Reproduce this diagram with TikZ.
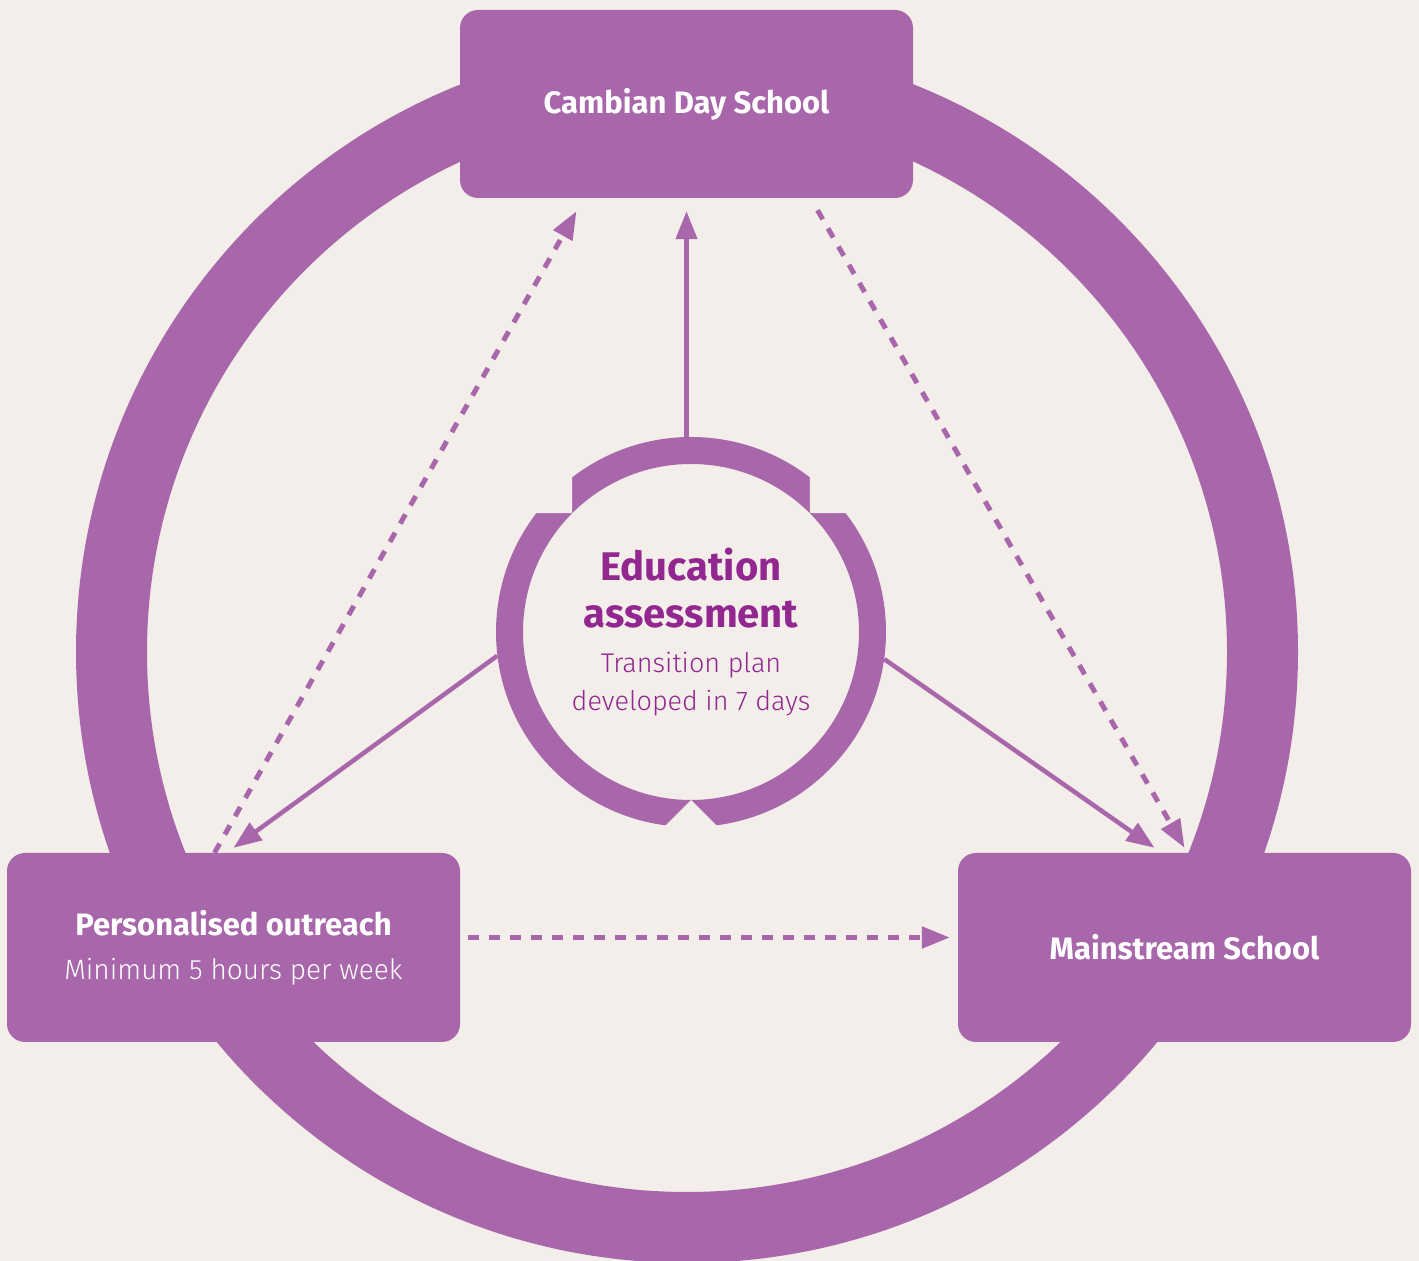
\documentclass[tikz,border=0pt]{standalone}
\usepackage{fontspec}
\setmainfont{Fira Sans}
\newfontfamily\lightfont{Fira Sans Light}
\usetikzlibrary{positioning}
\usetikzlibrary{arrows.meta}
\definecolor{cambpurple}{RGB}{168,103,170}
\definecolor{cambtext}{RGB}{146,39,143}
\definecolor{cambback}{RGB}{243,238,234}

\begin{document}
\begin{tikzpicture}[x=1pt,y=1pt,line join=miter,
  schoolbox/.style={rectangle,rounded corners=18pt,fill=cambpurple,text=white,minimum width=453pt,minimum height=189pt,inner sep=0pt,align=center,font=\fontsize{31}{44}\selectfont},
  solidarrow/.style={draw=cambpurple,line width=4.5pt,-{Triangle[length=28pt,width=21pt]}},
  dasharrow/.style={draw=cambpurple,line width=5pt,dash pattern=on 10.5pt off 10.5pt,-{Triangle[length=28pt,width=21pt]}}]
\fill[cambback] (0,0) rectangle (1419,1261);
\useasboundingbox (0,0) rectangle (1419,1261);
% outer cycle
\draw[cambpurple,line width=71pt] (687,609) circle (575.5);
% the three schools
\node[schoolbox,minimum height=188pt] (cds) at (686.5,1157) {\bfseries Cambian Day School};
\node[schoolbox] (outreach) at (233.5,313.5) {\bfseries Personalised outreach\\{\lightfont\fontsize{28}{44}\selectfont Minimum 5 hours per week}};
\node[schoolbox] (mainstream) at (1184.5,313.5) {\bfseries Mainstream School};
% assessment in the middle
\node[circle,minimum size=390pt,inner sep=0pt,align=center,text=cambtext,font=\fontsize{40}{47}\selectfont] (assess) at (691,629)
  {\bfseries Education\\\bfseries assessment\\[-2pt]{\lightfont\fontsize{27}{37}\selectfont Transition plan}\\[-9pt]{\lightfont\fontsize{27}{37}\selectfont developed in 7 days}};
\fill[cambpurple,even odd rule] (assess.center) circle (195) (assess.center) circle (168);
\foreach \ang in {45,135,270}
  \fill[cambback] (assess.center) ++(\ang:168) -- ++(\ang-45:60) -- ++(\ang+90:84.85) -- cycle;
% arrows
\draw[solidarrow] (assess.north -| cds.south) -- ([yshift=-13pt]cds.south);
\draw[solidarrow] (assess.187) -- ([yshift=5pt]outreach.north);
\draw[solidarrow] (assess.352) -- ([xshift=-30pt,yshift=5pt]mainstream.north);
\draw[dasharrow] ([xshift=-19pt]outreach.north) -- ([xshift=-110pt,yshift=-13pt]cds.south);
\draw[dasharrow] ([xshift=131pt,yshift=-12pt]cds.south) -- ([yshift=5pt]mainstream.north);
\draw[dasharrow] ([shift={(8pt,10pt)}]outreach.east) -- ([shift={(-8pt,10pt)}]mainstream.west);
\end{tikzpicture}
\end{document}
